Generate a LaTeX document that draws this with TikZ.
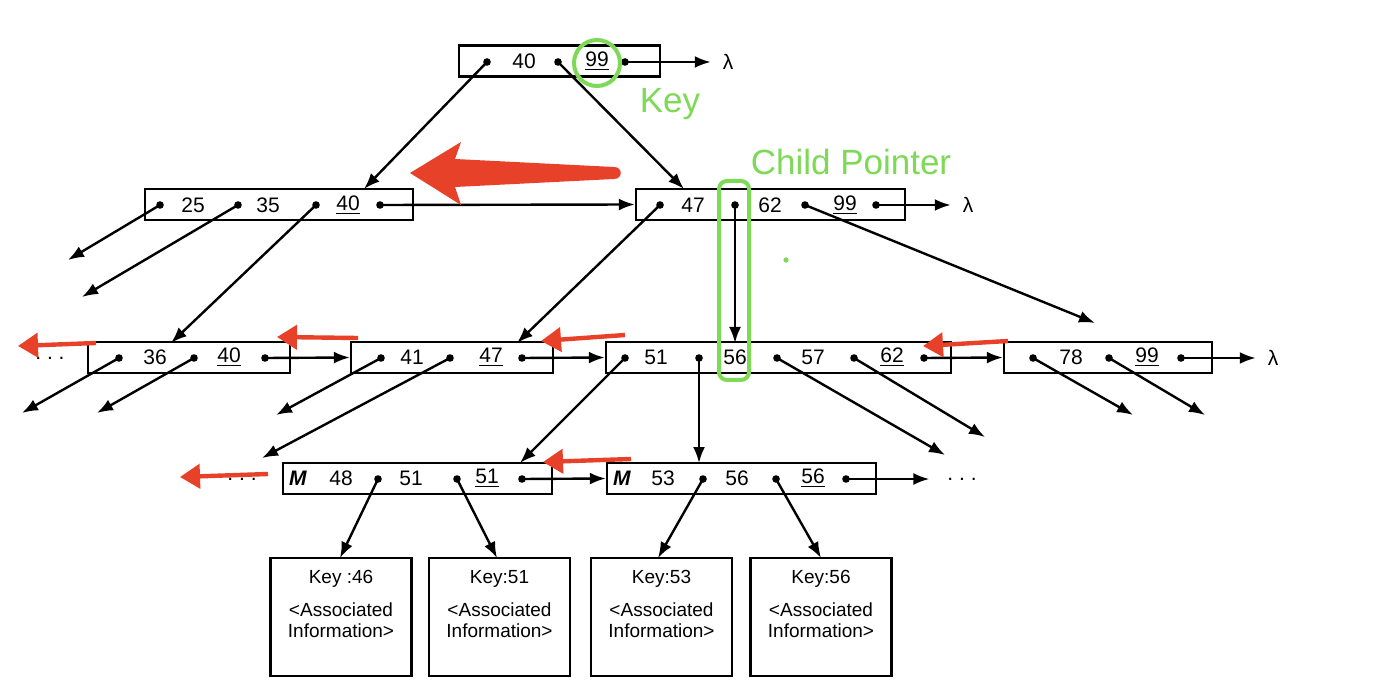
\documentclass[tikz,border=0pt]{standalone}
\usepackage{fontspec}
\setmainfont{Liberation Sans}
\usetikzlibrary{arrows.meta}
\definecolor{notegreen}{RGB}{126,217,87}
\definecolor{notered}{RGB}{232,65,42}

\begin{document}
\begin{tikzpicture}[x=0.5pt,y=-0.5pt,
  rec/.style={draw,line width=1.2pt,minimum height=15.5pt,inner sep=0pt},
  fld/.style={font=\fontsize{10.5}{12}\selectfont,inner sep=0pt},
  lam/.style={fld,outer sep=6pt},
  ptr/.style={line width=1.2pt,-{Latex[length=8pt,width=6pt]}},
  leaf/.style={draw,line width=1.2pt,minimum width=70.5pt,minimum height=59pt,inner sep=0pt},
  leaftxt/.style={font=\fontsize{9.5}{10.5}\selectfont,align=center,inner sep=0pt},
  redptr/.style={notered,line width=2.2pt,-{Triangle[length=10pt,width=12pt]}},
  note/.style={notegreen,font=\fontsize{17.5}{20}\selectfont}]
\useasboundingbox[fill=white] (0,0) rectangle (1400,694);
% Root record
\node[rec,minimum width=100.5pt] (root) at (559.5,61) {};
\node[fld] at (524,61) {40};
\node[fld] (rootkey) at (597,61) {\underline{99}};
\node[lam] (rootlam) at (728,62) {λ};
\coordinate (r0) at (487,62);
\coordinate (r1) at (558,62);
\coordinate (r2) at (625,62);
% Second level
\node[rec,minimum width=134pt] (ia) at (279,204.5) {};
\node[fld] at (193,205) {25};
\node[fld] at (268,205) {35};
\node[fld] at (348,205) {\underline{40}};
\coordinate (a0) at (160,205);
\coordinate (a1) at (238,205);
\coordinate (a2) at (316,205);
\coordinate (a3) at (380,205);
\node[rec,minimum width=134.5pt] (ib) at (770.5,204.5) {};
\node[fld] at (693,205) {47};
\node[fld] at (770,205) {62};
\node[fld] at (845,205) {\underline{99}};
\node[lam] (iblam) at (968,205) {λ};
\coordinate (b0) at (660,205);
\coordinate (b1) at (735,205);
\coordinate (b2) at (805,205);
\coordinate (b3) at (876,205);
% Third level
\node[fld] at (50,358) {.\ .\ .};
\node[rec,minimum width=101pt] (ja) at (189,357.5) {};
\node[fld] at (155,357) {36};
\node[fld] at (229,357) {\underline{40}};
\coordinate (c0) at (119,358);
\coordinate (c1) at (194,358);
\coordinate (c2) at (265,358);
\node[rec,minimum width=101pt] (jb) at (452,357.5) {};
\node[fld] at (412,357) {41};
\node[fld] at (491,357) {\underline{47}};
\coordinate (d0) at (381,358);
\coordinate (d1) at (450,358);
\coordinate (d2) at (522,358);
\node[rec,minimum width=172.5pt] (jc) at (778.5,357.5) {};
\node[fld] at (656,357) {51};
\node[fld] at (735,357) {56};
\node[fld] at (813,357) {57};
\node[fld] at (892,357) {\underline{62}};
\coordinate (e0) at (625,358);
\coordinate (e1) at (699,358);
\coordinate (e2) at (777,358);
\coordinate (e3) at (854,358);
\coordinate (e4) at (924,358);
\node[rec,minimum width=104pt] (jd) at (1108,357.5) {};
\node[fld] at (1071,357) {78};
\node[fld] at (1147,357) {\underline{99}};
\node[lam] (jdlam) at (1273,358) {λ};
\coordinate (f0) at (1033,358);
\coordinate (f1) at (1109,358);
\coordinate (f2) at (1181,358);
% Leaf level
\node[fld] at (242,479) {.\ .\ .};
\node[rec,minimum width=134.5pt] (ka) at (417.5,478.5) {};
\node[fld] at (298,478) {\textbf{\textit{M}}};
\node[fld] at (341,478) {48};
\node[fld] at (411,478) {51};
\node[fld] at (487,478) {\underline{51}};
\coordinate (g0) at (378,479);
\coordinate (g1) at (457,479);
\coordinate (g2) at (522,479);
\node[rec,minimum width=134.5pt] (kb) at (741.5,478.5) {};
\node[fld] at (622,478) {\textbf{\textit{M}}};
\node[fld] at (663,478) {53};
\node[fld] at (737,478) {56};
\node[fld] at (813,478) {\underline{56}};
\node[fld,outer sep=9pt] (kbmore) at (962,479) {.\ .\ .};
\coordinate (h0) at (703,479);
\coordinate (h1) at (776,479);
\coordinate (h2) at (846,479);
% Records with data
\node[leaf] (l46) at (341,617) {};
\node[leaf] (l51) at (499.5,617) {};
\node[leaf] (l53) at (661.5,617) {};
\node[leaf] (l56) at (821,617) {};
\foreach \l/\k in {l46/Key :46,l51/Key:51,l53/Key:53,l56/Key:56}
  \node[leaftxt,anchor=north,yshift=-6.5pt] at (\l.north) {\k\\[6pt]<Associated\\Information>};
% Free ends of pointers
\coordinate (iatop) at (364,189);
\coordinate (ibtop) at (684,189);
\coordinate (jatop) at (171,343);
\coordinate (jbtop) at (517,343);
\coordinate (jctop) at (735,343);
\coordinate (a0end) at (68,260);
\coordinate (a1end) at (82,297);
\coordinate (b2end) at (1095,323);
\coordinate (c0end) at (22,413);
\coordinate (c1end) at (97,413);
\coordinate (d0end) at (276,415);
\coordinate (d1end) at (262,458);
\coordinate (katop) at (520,463);
\coordinate (kbtop) at (699,463);
\coordinate (e2end) at (945,455);
\coordinate (e3end) at (985,437);
\coordinate (f0end) at (1133,415);
\coordinate (f1end) at (1205,415);
\coordinate (l46top) at (340,558);
\coordinate (l51top) at (497,558);
\coordinate (l53top) at (658,558);
\coordinate (l56top) at (821,558);
% Pointers
\draw[ptr] (r0) -- (iatop);
\draw[ptr] (r1) -- (ibtop);
\draw[ptr] (r2) -- (rootlam);
\draw[ptr] (a0) -- (a0end);
\draw[ptr] (a1) -- (a1end);
\draw[ptr] (a2) -- (jatop);
\draw[ptr] (a3) -- (ib.west);
\draw[ptr] (b0) -- (jbtop);
\draw[ptr] (b1) -- (jctop);
\draw[ptr] (b2) -- (b2end);
\draw[ptr] (b3) -- (iblam);
\draw[ptr] (c0) -- (c0end);
\draw[ptr] (c1) -- (c1end);
\draw[ptr] (c2) -- (jb.west);
\draw[ptr] (d0) -- (d0end);
\draw[ptr] (d1) -- (d1end);
\draw[ptr] (d2) -- (jc.west);
\draw[ptr] (e0) -- (katop);
\draw[ptr] (e1) -- (kbtop);
\draw[ptr] (e2) -- (e2end);
\draw[ptr] (e3) -- (e3end);
\draw[ptr] (e4) -- (jd.west);
\draw[ptr] (f0) -- (f0end);
\draw[ptr] (f1) -- (f1end);
\draw[ptr] (f2) -- (jdlam);
\draw[ptr] (g0) -- (l46top);
\draw[ptr] (g1) -- (l51top);
\draw[ptr] (g2) -- (kb.west);
\draw[ptr] (h0) -- (l53top);
\draw[ptr] (h1) -- (l56top);
\draw[ptr] (h2) -- (kbmore);
\foreach \p in {r0,r1,r2,a0,a1,a2,a3,b0,b1,b2,b3,c0,c1,c2,d0,d1,d2,e0,e1,e2,e3,e4,f0,f1,f2,g0,g1,g2,h0,h1,h2}
  \fill (\p) circle (1.9pt);
% Green notes
\draw[notegreen,line width=2pt] (597,63) circle (11.5pt);
\node[note] at (670,104) {Key};
\node[note] at (851,162) {Child Pointer};
\draw[notegreen,line width=2pt,rounded corners=4pt] (719,181) rectangle (749,380);
\fill[notegreen] (786,260) circle (1.3pt);
% Red marks
\fill[notered] (410,173) -- (461,142) -- (455,159) -- (614,167)
  .. controls (623,167) and (623,179) .. (614,179) -- (455,187) -- (461,205) -- cycle;
\draw[redptr] (96,343) -- (18,346);
\draw[redptr] (358,338) -- (277,337);
\draw[redptr] (625,335) -- (541,341);
\draw[redptr] (1008,341) -- (923,346);
\draw[redptr] (268,474) -- (180,477);
\draw[redptr] (631,459) -- (543,462);
\end{tikzpicture}
\end{document}
